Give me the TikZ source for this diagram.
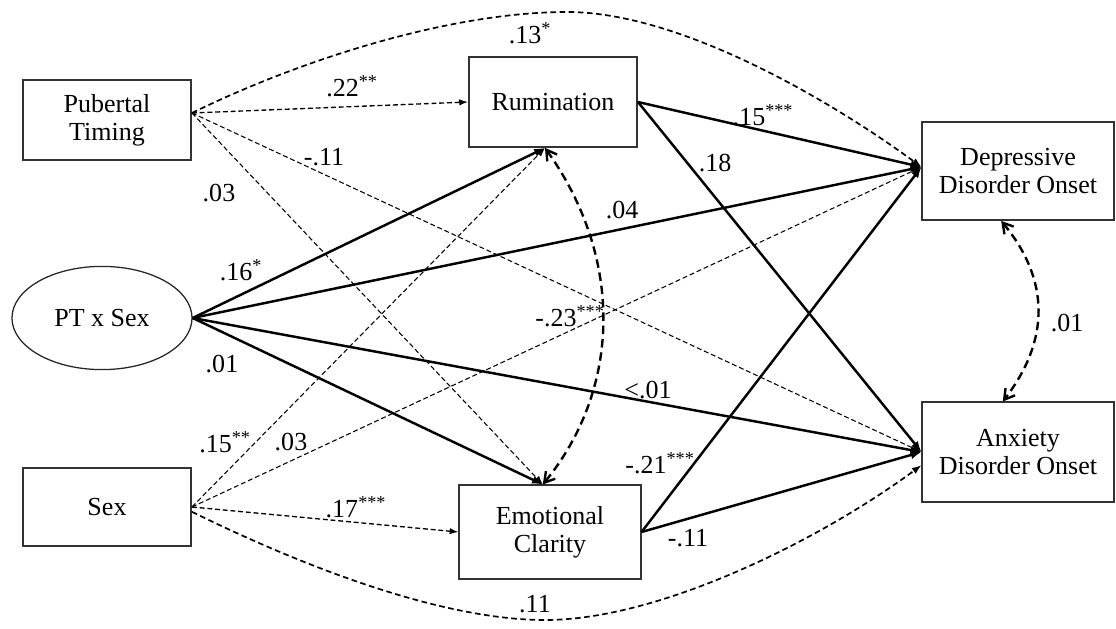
\documentclass[tikz,border=0pt]{standalone}
\usepackage{fontspec}
\setmainfont{Liberation Serif}
\usetikzlibrary{arrows.meta,positioning,shapes}

\begin{document}
\begin{tikzpicture}[x=0.025cm,y=-0.025cm]
\tikzstyle{every node}=[font=\fontsize{18.5}{20}\selectfont];
\tikzstyle{var}=[draw=black!80,line width=1.3pt,rectangle,align=center,inner sep=0pt];
\tikzstyle{latent}=[draw=black!85,line width=0.9pt,ellipse,inner sep=0pt,minimum width=4.5cm,minimum height=2.58cm];
\tikzstyle{coef}=[inner sep=0pt];
\tikzstyle{solidpath}=[line width=1.75pt,-{Latex[length=2.7mm,width=2.1mm]}];
\tikzstyle{npath}=[line width=0.75pt,dash pattern=on 3.5pt off 2pt,-{Latex[length=2.2mm,width=1.6mm]}];
\tikzstyle{arcpath}=[line width=1.2pt,dash pattern=on 4pt off 2.5pt,-{Latex[length=2.4mm,width=1.8mm]}];
\tikzstyle{corr}=[line width=1.7pt,dash pattern=on 6pt off 3.5pt,{Straight Barb[length=2.5mm,width=3mm]}-{Straight Barb[length=2.5mm,width=3mm]}];

\useasboundingbox (0,0) rectangle (1116,629);

\node[var,minimum width=4.2cm,minimum height=2cm] (pt) at (107,120) {Pubertal\\Timing};
\node[latent] (ptx) at (102,318) {PT x Sex};
\node[var,minimum width=4.2cm,minimum height=1.93cm] (sex) at (107,507) {Sex};
\node[var,minimum width=4.2cm,minimum height=2.25cm] (rum) at (553,102) {Rumination};
\node[var,minimum width=4.53cm,minimum height=2.33cm] (emo) at (550,532) {Emotional\\Clarity};
\node[var,minimum width=4.78cm,minimum height=2.45cm] (dep) at (1018,171) {Depressive\\Disorder Onset};
\node[var,minimum width=4.78cm,minimum height=2.48cm] (anx) at (1018,452) {Anxiety\\Disorder Onset};

\coordinate (ptout) at ([yshift=0.175cm]pt.east);
\coordinate (sexlow) at ([yshift=-0.12cm]sex.east);
\coordinate (rumin) at ([xshift=-0.2cm]rum.south);
\coordinate (emoin) at ([xshift=-0.18cm]emo.north);
\coordinate (depin) at ([yshift=0.1cm]dep.west);
\coordinate (anxlow) at ([yshift=-0.33cm]anx.west);
\coordinate (depcor) at ([xshift=-0.42cm]dep.south);
\coordinate (anxcor) at ([xshift=-0.38cm]anx.north);
\coordinate (toparc) at (567,12);
\coordinate (botarc) at (545,620);

\draw[npath,line width=0.95pt] (ptout) -- (rum.west);
\draw[arcpath] (ptout) .. controls (300,60) and (450,12) .. (toparc) .. controls (680,12) and (830,100) .. (depin);
\draw[npath] (ptout) -- (anx.west);
\draw[npath] (ptout) -- (emoin);
\draw[solidpath] (ptx.east) -- (rumin);
\draw[solidpath] (ptx.east) -- (depin);
\draw[solidpath] (ptx.east) -- (anx.west);
\draw[solidpath] (ptx.east) -- (emoin);
\draw[npath] (sex.east) -- (rumin);
\draw[npath] (sex.east) -- (depin);
\draw[npath,line width=0.95pt] (sex.east) -- (emo.west);
\draw[arcpath] (sexlow) .. controls (300,565) and (440,620) .. (botarc) .. controls (660,620) and (820,540) .. (anxlow);
\draw[solidpath] (rum.east) -- (depin);
\draw[solidpath] (rum.east) -- (anx.west);
\draw[solidpath] (emo.east) -- (depin);
\draw[solidpath] (emo.east) -- (anx.west);
\draw[corr] (rumin) .. controls (625,260) and (620,390) .. (emoin);
\draw[corr] (depcor) .. controls (1050,280) and (1050,340) .. (anxcor);

\node[coef] (c13) at (530,33) {.13\textsuperscript{*}};
\node[coef] (c22) at (352,86) {.22\textsuperscript{**}};
\node[coef] (cpa) at (324,157) {-.11};
\node[coef] (cpe) at (219,193) {.03};
\node[coef] (c16) at (241,270) {.16\textsuperscript{*}};
\node[coef] (cxe) at (222,364) {.01};
\node[coef] (c04) at (622,210) {.04};
\node[coef] (cxa) at (648,390) {<.01};
\node[coef] (csr) at (225,442) {.15\textsuperscript{**}};
\node[coef] (csd) at (291,442) {.03};
\node[coef] (c17) at (356,507) {.17\textsuperscript{***}};
\node[coef] (csa) at (535,604) {.11};
\node[coef] (c23) at (570,316) {-.23\textsuperscript{***}};
\node[coef] (c15) at (763,115) {.15\textsuperscript{***}};
\node[coef] (c18) at (715,163) {.18};
\node[coef] (c21) at (660,463) {-.21\textsuperscript{***}};
\node[coef] (cea) at (688,538) {-.11};
\node[coef] (c01) at (1067,323) {.01};
\end{tikzpicture}
\end{document}
